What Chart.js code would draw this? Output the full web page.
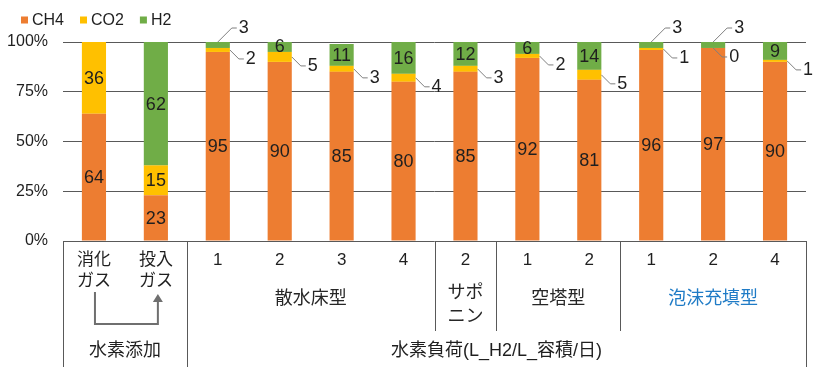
<!DOCTYPE html>
<html>
<head>
<meta charset="utf-8">
<script src="https://cdn.jsdelivr.net/npm/chart.js@4.4.0/dist/chart.umd.min.js"></script>
<style>
  html, body { margin: 0; padding: 0; background: #fff; }
  #wrap { width: 827px; height: 367px; }
</style>
</head>
<body>
<div id="wrap"><canvas id="gasChart"></canvas></div>
<script>
// values (%)
const categories = ['消化ガス', '投入ガス', '1', '2', '3', '4', '2', '1', '2', '1', '2', '4']
const ch4 = [64, 23, 95, 90, 85, 80, 85, 92, 81, 96, 97, 90]
const co2 = [36, 15, 2, 5, 3, 4, 3, 2, 5, 1, 0, 1]
const h2 = [null, 62, 3, 6, 11, 16, 12, 6, 14, 3, 3, 9]
const yTicks = [0, 25, 50, 75, 100]

// lines of each category label under the axis
const tickLines = [['消化', 'ガス'], ['投入', 'ガス'], ['1'], ['2'], ['3'], ['4'], ['2'], ['1'], ['2'], ['1'], ['2'], ['4']]
// second row: reactor types, third row: condition
const subGroups = [
    { lines: ['散水床型'], from: 2, to: 5, color: '#262626' },
    { lines: ['サポ', 'ニン'], from: 6, to: 6, color: '#262626' },
    { lines: ['空塔型'], from: 7, to: 8, color: '#262626' },
    { lines: ['泡沫充填型'], from: 9, to: 11, color: '#1f7bc6' },
]
const topGroups = [
    { text: '水素添加', from: 0, to: 1 },
    { text: '水素負荷(L_H2/L_容積/日)', from: 2, to: 11 },
]

const FONT = 'Arial, "Liberation Sans", "Noto Sans CJK JP", sans-serif'
const JFONT = 'Arial, "Noto Sans CJK JP", sans-serif'
const colors = { ch4: '#ed7d31', co2: '#ffc000', h2: '#70ad47' }
const textColor = '#1f1f1f'
const lineColor = '#595959'

// legend drawn by hand so it sits where Excel put it
const legendPlugin = {
    id: 'legendTop',
    afterDraw(chart) {
        const ctx = chart.ctx
        ctx.save()
        ctx.font = '16px ' + FONT
        ctx.textBaseline = 'middle'
        let x = 21
        const y = 20
        chart.data.datasets.forEach(ds => {
            ctx.fillStyle = ds.backgroundColor
            ctx.fillRect(x, y - 3.5, 7, 7)
            ctx.fillStyle = textColor
            ctx.fillText(ds.label, x + 11, y + 1)
            x += 11 + ctx.measureText(ds.label).width + 16
        })
        ctx.restore()
    }
}

// value labels, small ones pulled out with a leader line
const valueLabels = {
    id: 'valueLabels',
    afterDatasetsDraw(chart) {
        const ctx = chart.ctx
        ctx.save()
        ctx.font = '18px ' + FONT
        ctx.textBaseline = 'middle'
        chart.data.datasets.forEach((ds, di) => {
            const meta = chart.getDatasetMeta(di)
            meta.data.forEach((bar, i) => {
                const v = ds.data[i]
                if (v === null || v === undefined) return
                const p = bar.getProps(['x', 'y', 'base', 'width'], true)
                const mid = (p.y + p.base) / 2
                ctx.fillStyle = textColor
                if (v >= 6) {
                    ctx.textAlign = 'center'
                    ctx.fillText(String(v), p.x, mid + 1)
                    return
                }
                ctx.strokeStyle = '#7f7f7f'
                ctx.lineWidth = 1
                ctx.textAlign = 'left'
                ctx.beginPath()
                if (di === 2) {
                    ctx.moveTo(p.x, p.y)
                    ctx.lineTo(p.x + 14, p.y - 14)
                    ctx.lineTo(p.x + 19, p.y - 14)
                    ctx.stroke()
                    ctx.fillText(String(v), p.x + 21, p.y - 14)
                } else {
                    const sx = v === 0 ? p.x : p.x + p.width / 2
                    ctx.moveTo(sx, mid)
                    ctx.lineTo(sx + 9, mid + 9)
                    ctx.lineTo(sx + 14, mid + 9)
                    ctx.stroke()
                    ctx.fillText(String(v), sx + 16, mid + 9)
                }
            })
        })
        ctx.restore()
    }
}

// the table of category labels below the plot
const categoryTable = {
    id: 'categoryTable',
    afterDraw(chart) {
        const ctx = chart.ctx
        const xs = chart.scales.x
        const area = chart.chartArea
        const px = i => xs.getPixelForValue(i)
        const edge = i => i < 0 ? area.left : i >= categories.length - 1 ? area.right : (px(i) + px(i + 1)) / 2
        const bottom = chart.height
        ctx.save()
        ctx.strokeStyle = lineColor
        ctx.lineWidth = 1

        // outer verticals and the inner group separators
        ctx.beginPath()
        ;[-1, 1, 11].forEach(i => {
            const x = Math.round(edge(i)) + 0.5
            ctx.moveTo(x, area.bottom)
            ctx.lineTo(x, bottom)
        })
        ;[5, 6, 8].forEach(i => {
            const x = Math.round(edge(i)) + 0.5
            ctx.moveTo(x, area.bottom)
            ctx.lineTo(x, 331)
        })
        ctx.stroke()

        ctx.textAlign = 'center'
        ctx.textBaseline = 'middle'
        ctx.fillStyle = textColor
        tickLines.forEach((lines, i) => {
            ctx.font = (lines.length > 1 ? '17px ' + JFONT : '17px ' + FONT)
            lines.forEach((t, k) => ctx.fillText(t, px(i), 260 + k * 21))
        })

        subGroups.forEach(g => {
            const cx = (edge(g.from - 1) + edge(g.to)) / 2
            ctx.font = '18px ' + JFONT
            ctx.fillStyle = g.color
            const y0 = g.lines.length > 1 ? 293 : 299
            g.lines.forEach((t, k) => ctx.fillText(t, cx, y0 + k * 24))
        })

        ctx.fillStyle = textColor
        topGroups.forEach(g => {
            const cx = (edge(g.from - 1) + edge(g.to)) / 2
            ctx.font = '18px ' + JFONT
            ctx.fillText(g.text, cx, 351)
        })

        // arrow: 消化ガス -> 投入ガス
        const ax0 = px(0) + 1, ax1 = px(1) + 2
        ctx.strokeStyle = '#6f6f6f'
        ctx.lineWidth = 2
        ctx.beginPath()
        ctx.moveTo(ax0, 292)
        ctx.lineTo(ax0, 324)
        ctx.lineTo(ax1, 324)
        ctx.lineTo(ax1, 300)
        ctx.stroke()
        ctx.fillStyle = '#6f6f6f'
        ctx.beginPath()
        ctx.moveTo(ax1, 294)
        ctx.lineTo(ax1 - 5, 302)
        ctx.lineTo(ax1 + 5, 302)
        ctx.closePath()
        ctx.fill()
        ctx.restore()
    }
}

const gasChart = new Chart('gasChart', {
    type: 'bar',
    data: {
        labels: categories,
        datasets: [
            { label: 'CH4', data: ch4, backgroundColor: colors.ch4 },
            { label: 'CO2', data: co2, backgroundColor: colors.co2 },
            { label: 'H2', data: h2, backgroundColor: colors.h2 },
        ]
    },
    options: {
        responsive: true,
        maintainAspectRatio: false,
        animation: false,
        events: [],
        layout: { padding: { top: 42, right: 21, bottom: 126, left: 0 } },
        datasets: { bar: { barPercentage: 0.39, categoryPercentage: 1 } },
        plugins: {
            legend: { display: false },
            tooltip: { enabled: false }
        },
        scales: {
            x: { stacked: true, display: false, offset: true },
            y: {
                stacked: true,
                min: 0,
                max: 100,
                afterFit: scale => { scale.width = 63 },
                afterBuildTicks: scale => { scale.ticks = yTicks.map(v => ({ value: v })) },
                border: { display: false },
                grid: { color: lineColor, lineWidth: 1, drawTicks: false },
                ticks: {
                    padding: 15,
                    color: textColor,
                    font: { size: 16, family: FONT },
                    callback: v => v + '%'
                }
            }
        }
    },
    plugins: [legendPlugin, valueLabels, categoryTable]
})
</script>
</body>
</html>
